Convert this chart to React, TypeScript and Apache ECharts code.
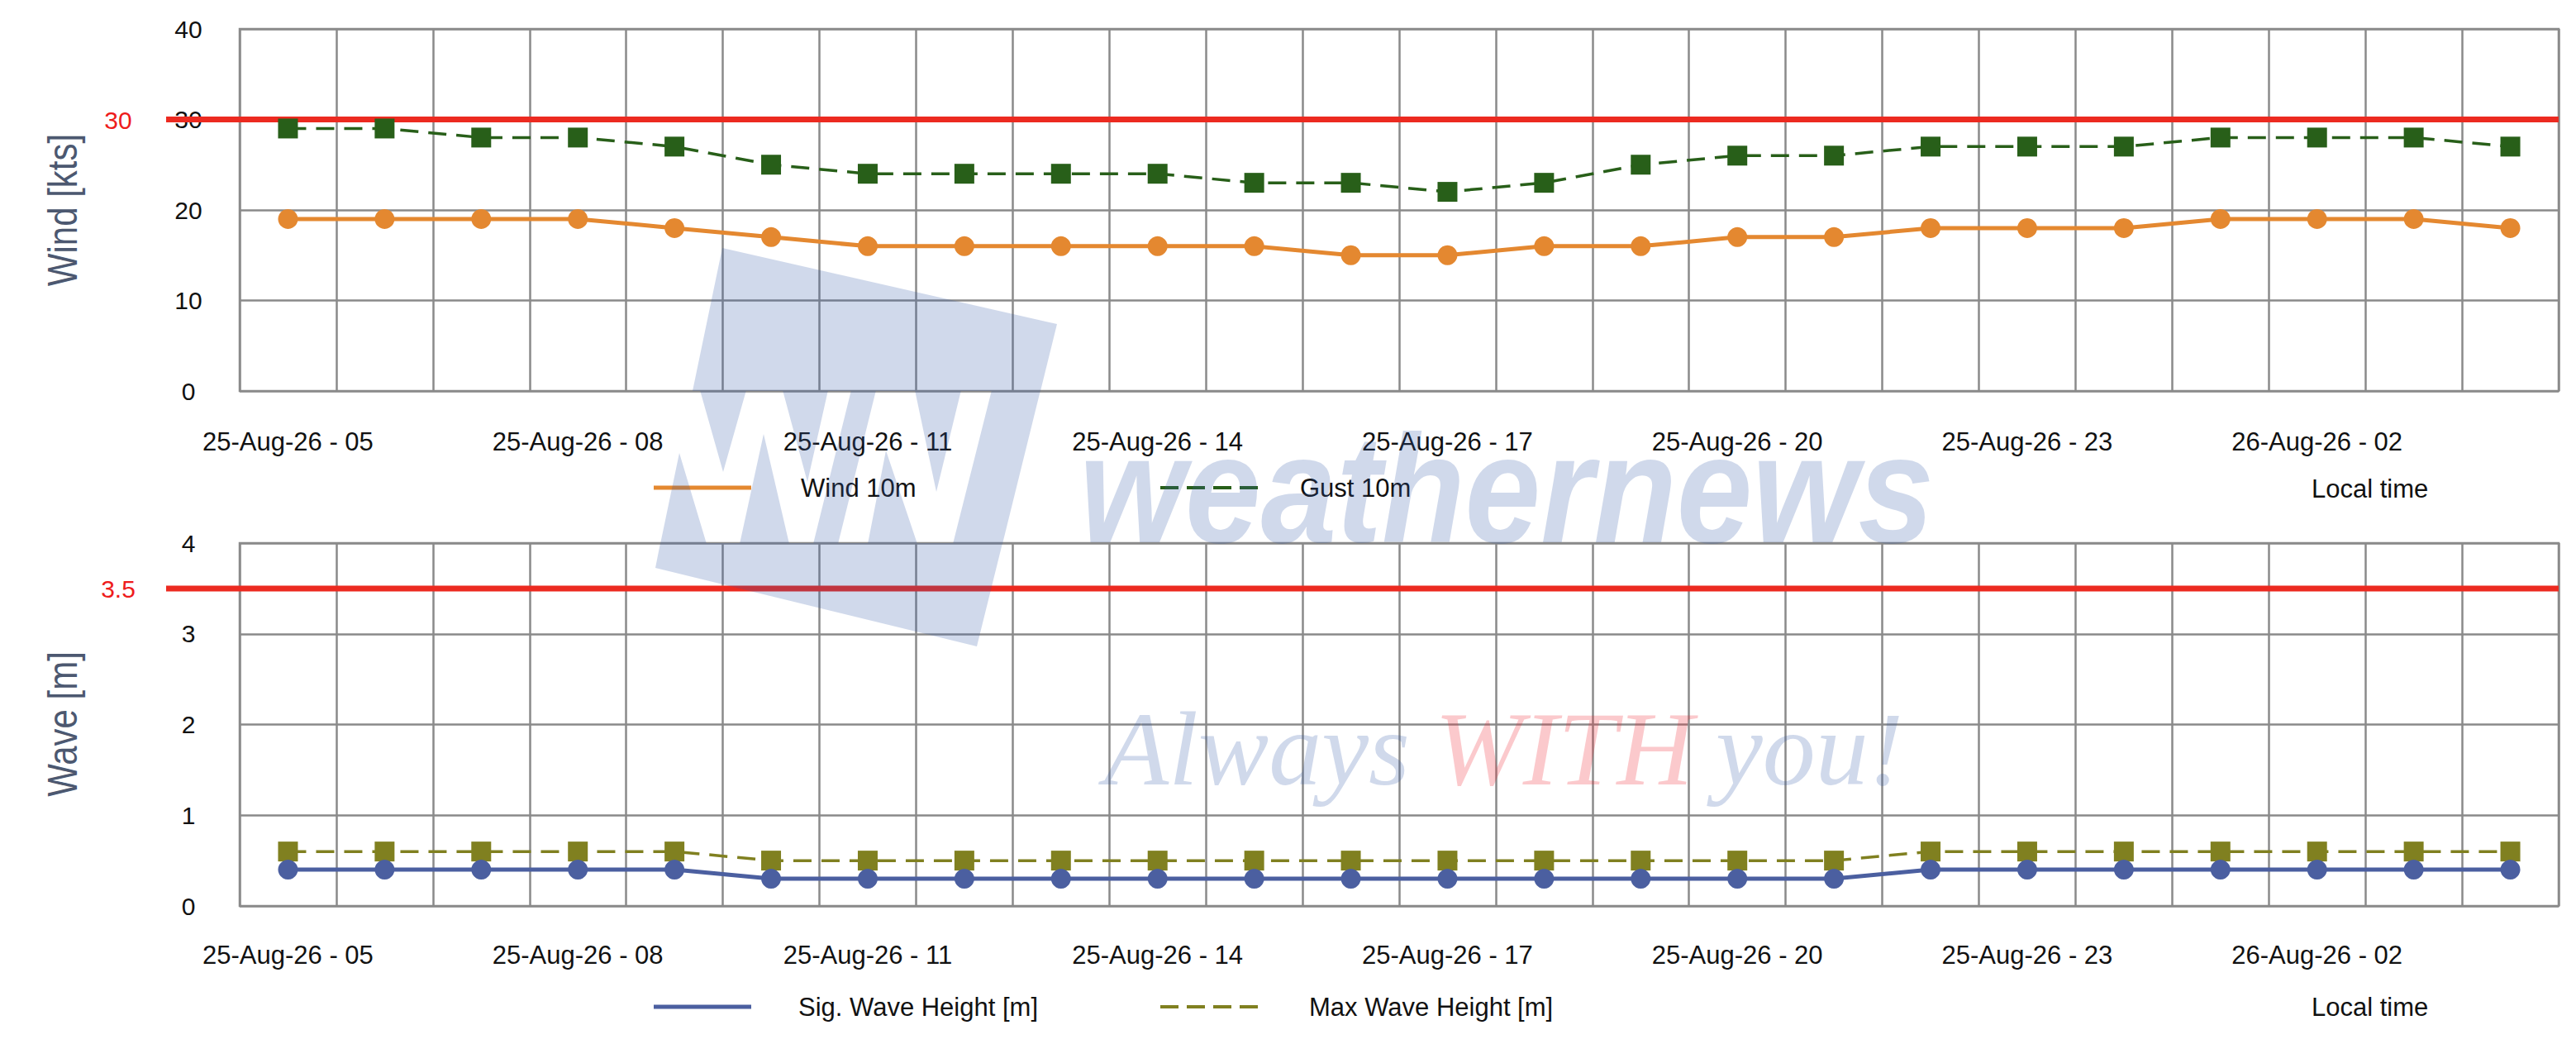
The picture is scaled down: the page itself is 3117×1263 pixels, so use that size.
import React, { useEffect, useRef } from 'react';
import * as echarts from 'echarts';

// ---------------- data ----------------
const categories = [
  '25-Aug-26 - 05', '25-Aug-26 - 06', '25-Aug-26 - 07', '25-Aug-26 - 08',
  '25-Aug-26 - 09', '25-Aug-26 - 10', '25-Aug-26 - 11', '25-Aug-26 - 12',
  '25-Aug-26 - 13', '25-Aug-26 - 14', '25-Aug-26 - 15', '25-Aug-26 - 16',
  '25-Aug-26 - 17', '25-Aug-26 - 18', '25-Aug-26 - 19', '25-Aug-26 - 20',
  '25-Aug-26 - 21', '25-Aug-26 - 22', '25-Aug-26 - 23', '26-Aug-26 - 00',
  '26-Aug-26 - 01', '26-Aug-26 - 02', '26-Aug-26 - 03', '26-Aug-26 - 04',
];
const wind10m = [19, 19, 19, 19, 18, 17, 16, 16, 16, 16, 16, 15, 15, 16, 16, 17, 17, 18, 18, 18, 19, 19, 19, 18];
const gust10m = [29, 29, 28, 28, 27, 25, 24, 24, 24, 24, 23, 23, 22, 23, 25, 26, 26, 27, 27, 27, 28, 28, 28, 27];
const sigWave = [0.4, 0.4, 0.4, 0.4, 0.4, 0.3, 0.3, 0.3, 0.3, 0.3, 0.3, 0.3, 0.3, 0.3, 0.3, 0.3, 0.3, 0.4, 0.4, 0.4, 0.4, 0.4, 0.4, 0.4];
const maxWave = [0.6, 0.6, 0.6, 0.6, 0.6, 0.5, 0.5, 0.5, 0.5, 0.5, 0.5, 0.5, 0.5, 0.5, 0.5, 0.5, 0.5, 0.6, 0.6, 0.6, 0.6, 0.6, 0.6, 0.6];
const windLimit = 30;
const waveLimit = 3.5;
const windAxis = { min: 0, max: 40, interval: 10 };
const waveAxis = { min: 0, max: 4, interval: 1 };
const windNames = ['Wind 10m', 'Gust 10m'];
const waveNames = ['Sig. Wave Height [m]', 'Max Wave Height [m]'];

// ---------------- layout / style ----------------
const W = 3117;
const H = 1263;
const GL = 290;
const GR = 21;
const FONT = "'Liberation Sans', Arial, Helvetica, sans-serif";
const GRID_COLOR = '#8a8a8a';
const C_WIND = '#e48830';
const C_GUST = '#285f19';
const C_SIG = '#4b5fa0';
const C_MAX = '#808020';
const C_RED = '#ec2a20';
const WM = 'rgba(50,90,170,0.23)';
const WM_RED = 'rgba(240,40,50,0.25)';

const logoPolys: number[][][] = [
  [[874, 300], [1279, 392], [1259, 473], [838, 473]],
  [[799, 657], [1213, 657], [1182, 782], [793, 687]],
  [[822, 548], [855, 658], [799, 658]],
  [[847, 472], [903, 472], [875, 571]],
  [[924, 525], [955, 658], [895, 658]],
  [[947, 472], [1002, 472], [977, 583]],
  [[1030, 472], [1060, 472], [1014, 658], [984, 658]],
  [[1072, 545], [1110, 658], [1050, 658]],
  [[1107, 472], [1163, 472], [1133, 595]],
  [[1200, 472], [1259, 472], [1213, 658], [1153, 658]],
];
const logoD = logoPolys
  .map((p) => 'M' + p.map((q) => q[0] + ' ' + q[1]).join(' L') + ' Z')
  .join(' ');

let registered = false;

function axisPair(gridIndex: number, ax: { min: number; max: number; interval: number }, labelMargin: number) {
  const xAxis = {
    type: 'category',
    gridIndex,
    data: categories,
    boundaryGap: true,
    axisLine: { show: false },
    axisTick: { show: false },
    axisLabel: {
      interval: 2,
      margin: labelMargin,
      fontSize: 31,
      fontFamily: FONT,
      color: '#111',
    },
    splitLine: { show: true, interval: 0, lineStyle: { color: GRID_COLOR, width: 2.5 } },
  };
  const yAxis = {
    type: 'value',
    gridIndex,
    min: ax.min,
    max: ax.max,
    interval: ax.interval,
    axisLine: { show: false },
    axisTick: { show: false },
    axisLabel: {
      margin: 62,
      align: 'center',
      fontSize: 30,
      fontFamily: FONT,
      color: '#111',
    },
    splitLine: { show: true, lineStyle: { color: GRID_COLOR, width: 2.5 } },
  };
  return { xAxis, yAxis };
}

export default function App() {
  const ref = useRef<HTMLDivElement>(null);

  useEffect(() => {
    if (!ref.current) return;
    if (!registered) {
      echarts.graphic.registerShape('wnLogo', echarts.graphic.extendPath(logoD, {}));
      registered = true;
    }
    const chart = echarts.init(ref.current, null, { renderer: 'svg' });
    const a1 = axisPair(0, windAxis, 46);
    const a2 = axisPair(1, waveAxis, 44);

    const solid = (name: string, data: number[], color: string, xi: number) => ({
      name,
      type: 'line',
      xAxisIndex: xi,
      yAxisIndex: xi,
      data,
      symbol: 'circle',
      symbolSize: 24,
      z: 4,
      itemStyle: { color },
      lineStyle: { color, width: 5 },
    });
    const dashed = (name: string, data: number[], color: string, xi: number) => ({
      name,
      type: 'line',
      xAxisIndex: xi,
      yAxisIndex: xi,
      data,
      symbol: 'rect',
      symbolSize: 24,
      z: 3,
      itemStyle: { color },
      lineStyle: { color, width: 3.5, type: [22, 12] },
    });

    chart.setOption({
      animation: false,
      backgroundColor: '#ffffff',
      grid: [
        { left: GL, right: GR, top: 35, height: 438, show: true, borderColor: GRID_COLOR, borderWidth: 2.5, backgroundColor: 'transparent' },
        { left: GL, right: GR, top: 657, height: 439, show: true, borderColor: GRID_COLOR, borderWidth: 2.5, backgroundColor: 'transparent' },
      ],
      xAxis: [a1.xAxis, a2.xAxis],
      yAxis: [a1.yAxis, a2.yAxis],
      series: [
        solid(windNames[0], wind10m, C_WIND, 0),
        dashed(windNames[1], gust10m, C_GUST, 0),
        solid(waveNames[0], sigWave, C_SIG, 1),
        dashed(waveNames[1], maxWave, C_MAX, 1),
      ],
    });

    const yWind = chart.convertToPixel({ yAxisIndex: 0 }, windLimit) as number;
    const yWave = chart.convertToPixel({ yAxisIndex: 1 }, waveLimit) as number;
    const right = W - GR;

    const txt = (text: string, x: number, y: number, extra: any = {}, elExtra: any = {}) => ({
      type: 'text',
      x,
      y,
      z: 20,
      ...elExtra,
      style: {
        text,
        fontSize: 31,
        fontFamily: FONT,
        fill: '#111',
        align: 'left',
        verticalAlign: 'middle',
        ...extra,
      },
    });
    const legLine = (x1: number, y: number, color: string, dash: boolean) => ({
      type: 'line',
      z: 20,
      shape: { x1, y1: y, x2: x1 + 118, y2: y },
      style: { stroke: color, lineWidth: dash ? 4 : 5, lineDash: dash ? [22, 10] : null },
    });

    const graphic: any[] = [
      // threshold lines + labels
      { type: 'line', z: 1, shape: { x1: 201, y1: yWind, x2: right, y2: yWind }, style: { stroke: C_RED, lineWidth: 7 } },
      { type: 'line', z: 1, shape: { x1: 201, y1: yWave, x2: right, y2: yWave }, style: { stroke: C_RED, lineWidth: 7 } },
      txt(String(windLimit), 143, yWind + 1, { fill: '#ee1c1c', align: 'center', fontSize: 30 }),
      txt(String(waveLimit), 143, yWave + 1, { fill: '#ee1c1c', align: 'center', fontSize: 30 }),
      // axis names
      txt('Wind [kts]', 76, 254, { fill: '#4c5870', align: 'center', fontSize: 50 }, { rotation: Math.PI / 2, scaleX: 0.84 }),
      txt('Wave [m]', 76, 876, { fill: '#4c5870', align: 'center', fontSize: 50 }, { rotation: Math.PI / 2, scaleX: 0.84 }),
      // legends
      legLine(791, 590, C_WIND, false),
      txt(windNames[0], 969, 590),
      legLine(1404, 590, C_GUST, true),
      txt(windNames[1], 1573, 590),
      txt('Local time', 2797, 591),
      legLine(791, 1218, C_SIG, false),
      txt(waveNames[0], 966, 1218),
      legLine(1404, 1218, C_MAX, true),
      txt(waveNames[1], 1584, 1218),
      txt('Local time', 2797, 1218),
      // watermark
      { type: 'wnLogo', z: 50, silent: true, x: 0, y: 0, style: { fill: WM } },
      {
        type: 'text', z: 50, silent: true, x: 1306, y: 592, scaleX: 0.89,
        style: { text: 'weathernews', fontSize: 185, fontFamily: FONT, fontWeight: 'bold', fontStyle: 'italic', fill: WM, align: 'left', verticalAlign: 'middle' },
      },
      {
        type: 'text', z: 50, silent: true, x: 1336, y: 906,
        style: { text: 'Always', fontSize: 128, fontFamily: "'Liberation Serif', 'Times New Roman', serif", fontStyle: 'italic', fill: WM, align: 'left', verticalAlign: 'middle' },
      },
      {
        type: 'text', z: 50, silent: true, x: 1736, y: 906,
        style: { text: 'WITH', fontSize: 128, fontFamily: "'Liberation Serif', 'Times New Roman', serif", fontStyle: 'italic', fill: WM_RED, align: 'left', verticalAlign: 'middle' },
      },
      {
        type: 'text', z: 50, silent: true, x: 2076, y: 906,
        style: { text: 'you!', fontSize: 128, fontFamily: "'Liberation Serif', 'Times New Roman', serif", fontStyle: 'italic', fill: WM, align: 'left', verticalAlign: 'middle' },
      },
    ];
    chart.setOption({ graphic });

    return () => chart.dispose();
  }, []);

  return (
    <div
      ref={ref}
      style={{ position: 'fixed', left: 0, top: 0, width: W + 'px', height: H + 'px', background: '#fff' }}
    />
  );
}
